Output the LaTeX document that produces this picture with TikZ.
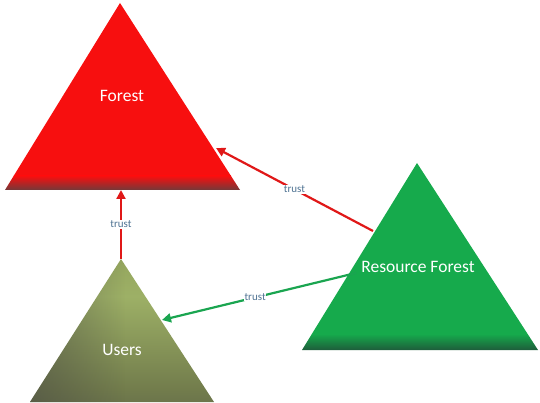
\documentclass[tikz,border=0pt]{standalone}
\usepackage{fontspec}
\setmainfont{Carlito}
\usetikzlibrary{arrows.meta,fadings}
\definecolor{fred}{HTML}{F70F0F}
\definecolor{fdark}{HTML}{6E3A3A}
\definecolor{rgreen}{HTML}{16AA4C}
\definecolor{rdark}{HTML}{1E5A3A}
\definecolor{olivel}{HTML}{9DB066}
\definecolor{olive}{HTML}{849350}
\definecolor{olived}{HTML}{4A4A44}
\definecolor{trustc}{HTML}{4F7393}
\definecolor{ared}{HTML}{E01818}
\definecolor{agreen}{HTML}{1AA550}
\pgfdeclareverticalshading{usersv}{100bp}{color(0bp)=(olived); color(30bp)=(olive!70!olived); color(62bp)=(olivel); color(100bp)=(olive)}
\tikzfading[name=leftdark, left color=transparent!0, right color=transparent!100]
\tikzset{
  title/.style={text=white,font=\fontsize{17.5}{20}\selectfont},
  trustlbl/.style={text=trustc,font=\fontsize{11}{12}\selectfont,fill=white,inner sep=0.5pt},
  conn/.style={line width=2.2pt,-{Triangle[length=9pt,width=9pt]}},
}
\begin{document}
\begin{tikzpicture}[x=1pt,y=-1pt]
\useasboundingbox (0,0) rectangle (540,403);
% Forest
\coordinate (fA) at (120,3);
\coordinate (fL) at (5,190);
\coordinate (fR) at (240,190);
\begin{scope}
\clip (fA) -- (fL) -- (fR) -- cycle;
\fill[fred] (0,0) rectangle (540,176);
\shade[top color=fred,bottom color=fdark] (0,176) rectangle (540,190.5);
\end{scope}
% Resource Forest
\coordinate (rA) at (417,163);
\coordinate (rL) at (302,350);
\coordinate (rR) at (538,350);
\begin{scope}
\clip (rA) -- (rL) -- (rR) -- cycle;
\fill[rgreen] (0,150) rectangle (540,334);
\shade[top color=rgreen,bottom color=rdark] (0,334) rectangle (540,350.5);
\end{scope}
% Users
\coordinate (uA) at (121,259);
\coordinate (uL) at (30,402);
\coordinate (uR) at (214,402);
\begin{scope}
\clip (uA) -- (uL) -- (uR) -- cycle;
\shade[shading=usersv] (0,259) rectangle (540,402.5);
\fill[olived,opacity=0.55,path fading=leftdark] (30,255) rectangle (125,403);
\end{scope}
% labels
\node[title] (forest) at (122,96) {Forest};
\node[title] (res) at (418,267) {Resource Forest};
\node[title] (users) at (122,350) {Users};
% connectors
\coordinate (u1) at (121,259);
\coordinate (f1) at (121,190);
\coordinate (r1) at (373,231);
\coordinate (f2) at (216,148);
\coordinate (r2) at (356,273);
\coordinate (u2) at (162,320);
\draw[conn,ared] (u1) -- node[trustlbl]{trust} (f1);
\draw[conn,ared] (r1) -- node[trustlbl,pos=0.5]{trust} (f2);
\draw[conn,agreen] (r2) -- node[trustlbl,pos=0.52]{trust} (u2);
\end{tikzpicture}
\end{document}
